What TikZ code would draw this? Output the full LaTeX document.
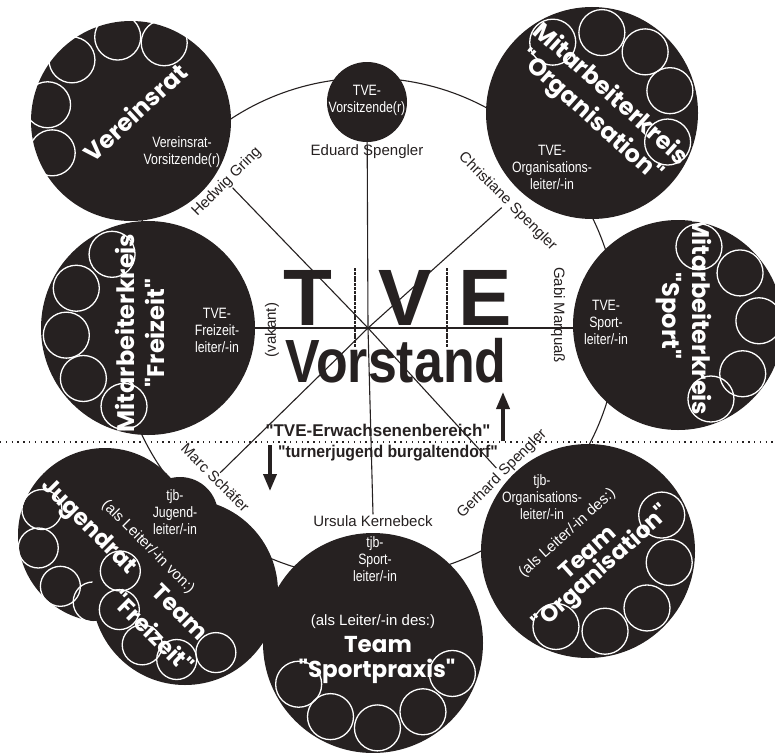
\documentclass[tikz,border=0pt]{standalone}
\usepackage{fontspec}
\setmainfont{Liberation Sans}
\newfontfamily\rolefont[FakeStretch=0.82]{Liberation Sans}
\newfontfamily\titlefont{Poppins}
\newcommand{\dq}{\textquotedbl}
\usepackage{tikz}
\usetikzlibrary{positioning,arrows.meta}
\pgfdeclarelayer{edgelayer}
\pgfdeclarelayer{nodelayer}
\pgfsetlayers{edgelayer,nodelayer,main}
\definecolor{ink}{RGB}{38,33,33}
\tikzset{>=latex}
\tikzstyle{group}    = [circle, fill=ink, inner sep=0pt]
\tikzstyle{member}   = [draw=white, line width=1.3pt]
\tikzstyle{spoke}    = [draw=ink, line width=1.1pt]
\tikzstyle{dotline}  = [draw=ink, line width=1.4pt,
                        dash pattern=on 1.4pt off 4.4pt]
\tikzstyle{sepline}  = [draw=ink, line width=1.4pt,
                        dash pattern=on 3pt off 0.8pt]
\tikzstyle{role}     = [text=white, align=center, inner sep=0pt,
                        font=\rolefont\fontsize{15}{17}\selectfont]
\tikzstyle{person}   = [text=ink, inner sep=1pt,
                        font=\fontsize{15}{17}\selectfont]
\tikzstyle{title}    = [text=white, align=center, inner sep=0pt,
                        font=\titlefont\bfseries\fontsize{24}{30}\selectfont]
\tikzstyle{team}     = [text=white, inner sep=0pt,
                        font=\titlefont\bfseries\fontsize{23}{26}\selectfont]
\tikzstyle{asleader} = [text=white, inner sep=0pt,
                        font=\fontsize{15}{17}\selectfont]
\tikzstyle{bigletter} = [text=ink, inner sep=0pt, anchor=base,
                        font=\bfseries\fontsize{80}{80}\selectfont]
\tikzstyle{caption}  = [text=ink, inner sep=0pt,
                        font=\bfseries\fontsize{17}{19}\selectfont]
\tikzstyle{bigarrow} = [-{Triangle[length=17pt,width=13pt]},
                        line width=3.6pt, draw=ink]

\begin{document}
\begin{tikzpicture}[x=1pt, y=1pt]
  \useasboundingbox (0,0) rectangle (775,-752);

  % Coordinates
  \coordinate (mid) at (368,-328);
  \path (mid) ++(134:195) coordinate (hg);
  \path (mid) ++(42:180) coordinate (cs);
  \path (mid) ++(-47.5:190) coordinate (gs);
  \path (mid) ++(224.4:207) coordinate (ms);
  \coordinate (dl) at (0,-442);
  \coordinate (dr) at (775,-442);
  \coordinate (upfoot) at (503,-441);
  \coordinate (uptip)  at (503,-392);
  \coordinate (dnfoot) at (270,-445);
  \coordinate (dntip)  at (270,-491);

  % Groups
  \node[group, minimum size=80pt]  (vors) at (367,-102) {};
  \node[group, minimum size=200pt] (vr)   at (131,-121) {};
  \foreach \a in {202,169,134,99,67}
    \draw[member] (vr) ++(\a:85) circle (23pt);
  \node[group, minimum size=212pt] (org)  at (592,-113) {};
  \foreach \a in {119,83,49,16,-21}
    \draw[member] (org) ++(\a:81) circle (23pt);
  \node[group, minimum size=214pt] (frz)  at (148,-328) {};
  \foreach \a in {116,151,185,218,253}
    \draw[member] (frz) ++(\a:82) circle (23pt);
  \node[group, minimum size=210pt] (spt)  at (678,-325) {};
  \foreach \a in {75,40,3,-37,-66}
    \draw[member] (spt) ++(\a:81) circle (23pt);
  \node[group, minimum size=214pt] (tom)  at (588,-551) {};
  \foreach \a in {26,-8,-44,-78,-113}
    \draw[member] (tom) ++(\a:82) circle (23pt);
  \node[group, minimum size=220pt] (spx)  at (373,-643) {};
  \foreach \a in {209,240,273,306,339}
    \draw[member] (spx) ++(\a:85) circle (23pt);
  \node[group, minimum size=174pt] (jr)   at (105,-535) {};
  \foreach \a in {158,191,229,260}
    \draw[member] (jr) ++(\a:68) circle (20pt);
  \node[group, minimum size=76pt]  (jl)   at (180,-515) {};
  \node[group, minimum size=186pt] (tf)   at (185,-592) {};
  \foreach \a in {162,195,231,263,297}
    \draw[member] (tf) ++(\a:68) circle (20pt);

  % Titles
  \node[title, rotate=43]  (vrt)  at (135,-112) {Vereinsrat};
  \node[title, rotate=-42] (orgt) at (600,-106) {Mitarbeiterkreis\\\dq Organisation\dq};
  \node[title, rotate=90]  (frzt) at (140,-333) {Mitarbeiterkreis\\\dq Freizeit\dq};
  \node[title, rotate=-90] (sptt) at (684,-316) {Mitarbeiterkreis\\\dq Sport\dq};

  \node[asleader] (spxa) at (373,-622) {(als Leiter/-in des:)};
  \node[team]     (spxt) at (378,-645) {Team};
  \node[team]     (spxn) at (377,-671) {\dq Sportpraxis\dq};

  \begin{scope}[shift={(587,-552)}, rotate=42, transform shape]
    \node[asleader] (toma) at (-2,27) {(als Leiter/-in des:)};
    \node[team]     (tomt) at (0,0)   {Team};
    \node[team]     (tomn) at (0,-23) {\dq Organisation\dq};
  \end{scope}

  \node[team, rotate=-45]     (jrt) at (88,-527)  {Jugendrat};
  \node[asleader, rotate=-45] (tfa) at (148,-547) {(als Leiter/-in von:)};
  \node[team, rotate=-45]     (tft) at (180,-612) {Team};
  \node[team, rotate=-45]     (tfn) at (153,-632) {\dq Freizeit\dq};

  % Roles
  \node[role] (vorsr) at (367,-100) {TVE-\\Vorsitzende(r)};
  \node[role] (vrr)   at (182,-152) {Vereinsrat-\\Vorsitzende(r)};
  \node[role] (orgr)  at (552,-167) {TVE-\\Organisations-\\leiter/-in};
  \node[role] (frzr)  at (217,-330) {TVE-\\Freizeit-\\leiter/-in};
  \node[role] (sptr)  at (606,-322) {TVE-\\Sport-\\leiter/-in};
  \node[role] (tomr)  at (542,-497) {tjb-\\Organisations-\\leiter/-in};
  \node[role] (spxr)  at (375,-559) {tjb-\\Sport-\\leiter/-in};
  \node[role] (jlr)   at (175,-512) {tjb-\\Jugend-\\leiter/-in};

  % Persons
  \node[person, below=1pt of vors]       (es)  {Eduard Spengler};
  \node[person, rotate=45, anchor=south]  (hgn) at (hg) {Hedwig Gring};
  \node[person, rotate=-45, anchor=south] (csn) at (cs) {Christiane Spengler};
  \node[person, rotate=45, anchor=north]  (gsn) at (gs) {Gerhard Spengler};
  \node[person, rotate=-45, anchor=north] (msn) at (ms) {Marc Schäfer};
  \node[person, rotate=90]               (vak) at (272,-330) {(vakant)};
  \node[person, rotate=-90]              (gm)  at (558,-315) {Gabi Marquaß};
  \node[person, above=5pt of spx]        (ukn) {Ursula Kernebeck};

  % Board
  \node[bigletter] (lt) at (308,-325) {T};
  \node[bigletter] (lv) at (405,-325) {V};
  \node[bigletter] (le) at (485,-325) {E};
  \draw[sepline] (355,-268) -- (355,-347);
  \draw[sepline] (447,-268) -- (447,-347);
  \node[text=ink, inner sep=0pt, anchor=base, xscale=0.85,
        font=\bfseries\fontsize{61}{61}\selectfont] (vst) at (396,-382) {Vorstand};

  \node[caption]              (erw) at (378,-430) {\dq TVE-Erwachsenenbereich\dq};
  \node[caption, xscale=0.93] (tjb) at (388,-453) {\dq turnerjugend burgaltendorf\dq};

  % Edges
  \begin{pgfonlayer}{edgelayer}
    \fill[white] (0,0) rectangle (775,-752);
    \draw[dotline] (dl) -- (dr);
    \draw[spoke] (mid) circle (250pt);
    \draw[spoke] (mid) -- (vors);
    \draw[spoke] (mid) -- (frz);
    \draw[spoke] (mid) -- (mid -| spt.west);
    \draw[spoke] (mid) -- (ukn.north);
    \draw[spoke] (mid) -- (hg);
    \draw[spoke] (mid) -- (cs);
    \draw[spoke] (mid) -- (gs);
    \draw[spoke] (mid) -- (ms);
  \end{pgfonlayer}
  \draw[bigarrow] (upfoot) -- (uptip);
  \draw[bigarrow] (dnfoot) -- (dntip);

\end{tikzpicture}
\end{document}
